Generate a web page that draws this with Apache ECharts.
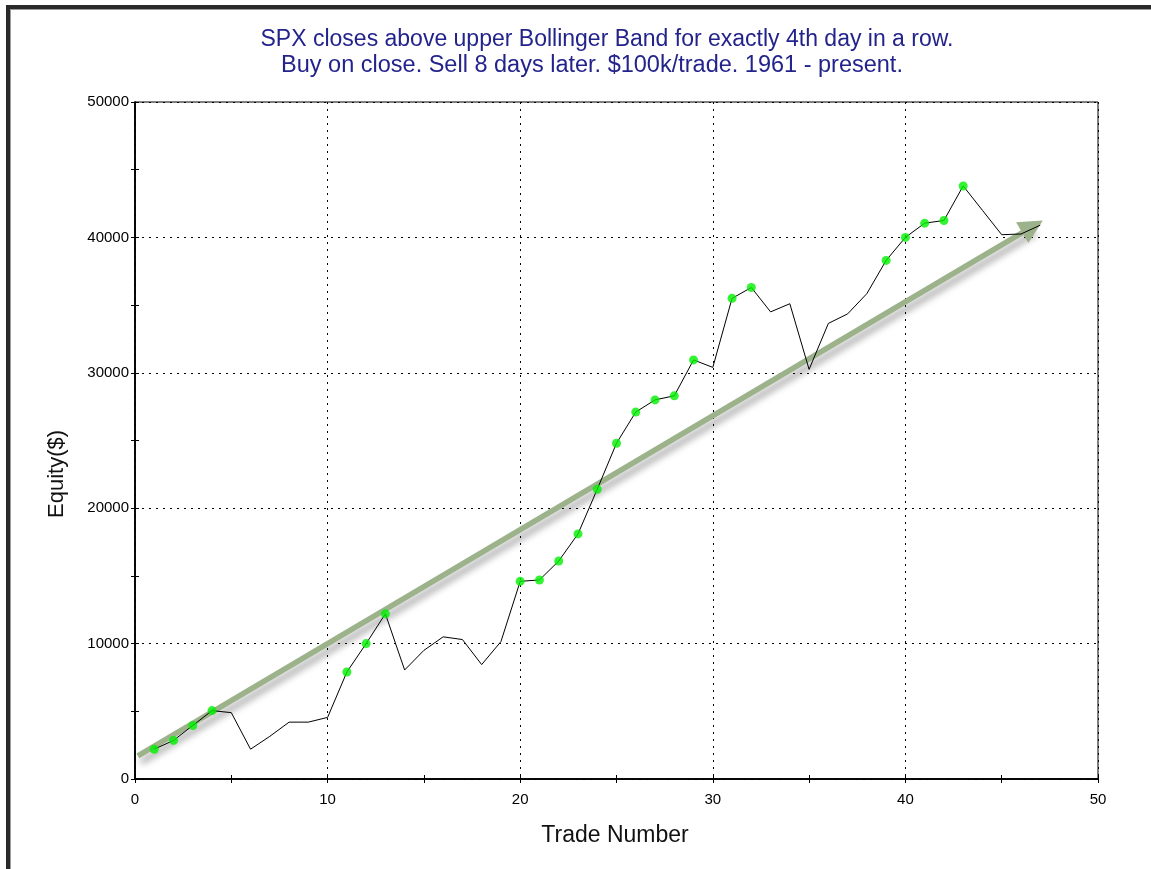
<!DOCTYPE html>
<html>
<head>
<meta charset="utf-8">
<script src="https://cdn.jsdelivr.net/npm/echarts@6/dist/echarts.min.js"></script>
<style>
html,body{margin:0;padding:0;background:#fff;}
#c{width:1151px;height:869px;}
</style>
</head>
<body>
<div id="c"></div>
<script>
const titleLines = [
  'SPX closes above upper Bollinger Band for exactly 4th day in a row.',
  'Buy on close. Sell 8 days later. $100k/trade. 1961 - present.'
];
const xAxisName = 'Trade Number';
const yAxisName = 'Equity($)';
const trades = [];
for (let i = 1; i <= 47; i++) trades.push(i);
const equity = [2200, 2850, 3950, 5050, 4900, 2200, 3150, 4200, 4200, 4550,
  7900, 10000, 12200, 8050, 9500, 10500, 10300, 8450, 10150, 14600,
  14700, 16100, 18100, 21400, 24800, 27100, 28000, 28300, 30950, 30400,
  35500, 36300, 34500, 35100, 30250, 33650, 34350, 35850, 38300, 40000,
  41050, 41250, 43800, 42000, 40200, 40250, 40900];
const greenTrades = [1, 2, 3, 4, 11, 12, 13, 20, 21, 22, 23, 24, 25, 26, 27, 28, 29, 31, 32, 39, 40, 41, 42, 43];
const trendStart = [0.15, 1700];
const trendEnd = [46.6, 40800];
const xTickLabels = [0, 10, 20, 30, 40, 50];
const yTickLabels = [0, 10000, 20000, 30000, 40000, 50000];

const lineData = trades.map((t, i) => [t, equity[i]]);
const dotData = greenTrades.map(t => [t, equity[t - 1]]);

const FONT = "'Liberation Sans Narrow', 'Liberation Sans', Arial, sans-serif";
const chart = echarts.init(document.getElementById('c'), null, {renderer: 'canvas'});

function baseX(inside, showLabels) {
  return {
    type: 'value', min: 0, max: 50, interval: 10, position: 'bottom',
    axisLine: {show: true, onZero: false, lineStyle: {color: '#000', width: 1.5}},
    axisTick: {show: true, inside: inside, length: 4, lineStyle: {color: '#000'}},
    minorTick: {show: true, splitNumber: 2, length: 4, lineStyle: {color: '#000'}},
    axisLabel: {show: showLabels, margin: 13, color: '#000', fontSize: 15, fontFamily: FONT,
      formatter: v => xTickLabels.indexOf(v) >= 0 ? String(v) : ''},
    splitLine: {show: showLabels, lineStyle: {color: '#000', type: [2, 5], width: 1}}
  };
}
function baseY(inside, showLabels) {
  return {
    type: 'value', min: 0, max: 50000, interval: 10000, position: 'left',
    axisLine: {show: true, onZero: false, lineStyle: {color: '#000', width: 1.5}},
    axisTick: {show: true, inside: inside, length: 4, lineStyle: {color: '#000'}},
    minorTick: {show: true, splitNumber: 2, length: 4, lineStyle: {color: '#000'}},
    axisLabel: {show: showLabels, margin: 6, color: '#000', fontSize: 15, fontFamily: FONT,
      formatter: v => yTickLabels.indexOf(v) >= 0 ? String(v) : ''},
    splitLine: {show: showLabels, lineStyle: {color: '#000', type: [2, 5], width: 1}}
  };
}
const BIG = "23px 'Liberation Sans', Arial, sans-serif";

chart.setOption({
  backgroundColor: '#fff',
  animation: false,
  grid: {left: 135, right: 53, top: 102, bottom: 90, show: true, borderColor: '#000', borderWidth: 1, backgroundColor: 'transparent'},
  xAxis: [baseX(false, true), baseX(true, false)],
  yAxis: [baseY(false, true), baseY(true, false)],
  graphic: [
    {type: 'rect', shape: {x: 6, y: 5, width: 4, height: 869}, style: {fill: '#2a2a2a'}, z: 100},
    {type: 'rect', shape: {x: 10, y: 9, width: 1, height: 869}, style: {fill: '#9a9a9a'}, z: 100},
    {type: 'rect', shape: {x: 6, y: 5, width: 1151, height: 4}, style: {fill: '#2a2a2a'}, z: 100},
    {type: 'rect', shape: {x: 10, y: 9, width: 1151, height: 1}, style: {fill: '#9a9a9a'}, z: 100},
    {type: 'text', x: 607, y: 40, style: {text: titleLines[0], fill: '#23238c', font: BIG, textAlign: 'center', textVerticalAlign: 'middle'}},
    {type: 'text', x: 592, y: 66, style: {text: titleLines[1], fill: '#23238c', font: "23.5px 'Liberation Sans', Arial, sans-serif", textAlign: 'center', textVerticalAlign: 'middle'}},
    {type: 'text', x: 615, y: 836, style: {text: xAxisName, fill: '#111', font: BIG, textAlign: 'center', textVerticalAlign: 'middle'}},
    {type: 'text', x: 57, y: 474, rotation: Math.PI / 2, style: {text: yAxisName, fill: '#111', font: "22px 'Liberation Sans', Arial, sans-serif", textAlign: 'center', textVerticalAlign: 'middle'}}
  ],
  series: [
    {
      type: 'line', data: [], z: 1, silent: true,
      markLine: {
        silent: true, animation: false, z: 1,
        symbol: ['none', 'triangle'], symbolSize: [24, 24],
        label: {show: false},
        lineStyle: {color: '#9cb28a', width: 5.5, type: 'solid',
          shadowColor: 'rgba(0,0,0,0.35)', shadowBlur: 7, shadowOffsetX: 3, shadowOffsetY: 6},
        data: [[{coord: trendStart}, {coord: trendEnd}]]
      }
    },
    {
      type: 'line', data: lineData, z: 3, symbol: 'none', silent: true,
      lineStyle: {color: '#000', width: 1}
    },
    {
      type: 'scatter', data: dotData, z: 4, symbol: 'circle', symbolSize: 9, silent: true,
      itemStyle: {color: '#00f000'}
    }
  ]
});
</script>
</body>
</html>
